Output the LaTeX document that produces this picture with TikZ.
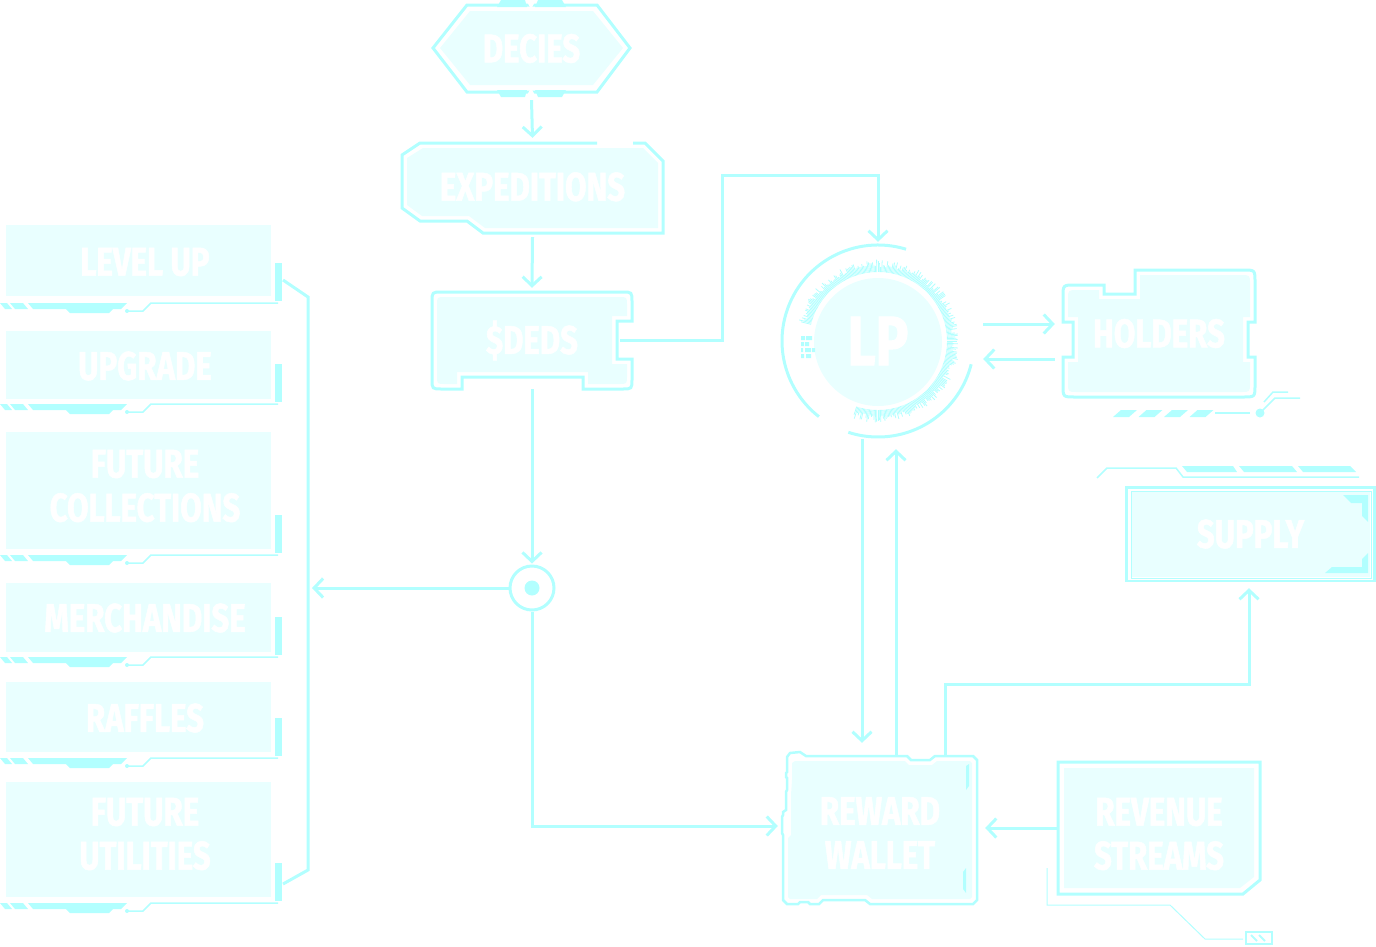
\documentclass[tikz,border=0pt]{standalone}
\usepackage{fontspec}
\newfontfamily\osw[FakeStretch=0.78,FakeBold=1.3]{Fira Sans}
\usetikzlibrary{arrows.meta,calc}
\definecolor{cyl}{RGB}{178,255,255}
\definecolor{cyf}{RGB}{233,255,255}
\tikzset{
  outl/.style={draw=cyl,line width=3pt,line join=miter},
  lite/.style={fill=cyf},
  cyfill/.style={fill=cyl},
  hair/.style={draw=cyl,line width=1.5pt},
  con/.style={draw=cyl,line width=3pt},
  arr/.style={con,-{Straight Barb[length=9pt,width=19pt]}},
  txt/.style={text=white,font=\osw\bfseries\fontsize{40}{44}\selectfont,align=center,inner sep=0pt},
  bigtxt/.style={text=white,font=\osw\bfseries\fontsize{70}{70}\selectfont,inner sep=0pt},
}
\newcommand\leftbox[3]{%
  \fill[cyf] (6,#1) rectangle (271,#2);
  \fill[cyl] (275,#3-40) rectangle (282,#3-2);
  \begin{scope}[shift={(0,#3)}]
    \fill[cyl] (0,0) -- (7,0) -- (12,6) -- (5,6) -- cycle;
    \fill[cyl] (10,0) -- (23,0) -- (28,6) -- (15,6) -- cycle;
    \fill[cyl] (28,0) -- (127,0) -- (121,6) -- (113,6) -- (109,10) -- (70,10) -- (66,6) -- (33,6) -- cycle;
    \fill[cyl] (127,8) circle[radius=2];
    \draw[hair] (127,8) -- (143,8) -- (151,0) -- (278,0);
  \end{scope}}
\begin{document}
\begin{tikzpicture}[x=1pt,y=-1pt]
\useasboundingbox (0,0) rectangle (1376,946);

% ---------- left column ----------
\leftbox{225}{296}{303}
\leftbox{331}{399}{404}
\leftbox{432}{549}{555}
\leftbox{583}{652}{657}
\leftbox{682}{752}{758}
\leftbox{782}{897}{903}
\draw[con] (283,280) -- (308,297) -- (308,870) -- (283,884);
\coordinate (brk) at (312,588);

% ---------- DECIES ----------
\fill[cyf] (470,11) -- (593,11) -- (623,48) -- (593,85) -- (470,85) -- (440,48) -- cycle;
\draw[outl] (467,5) -- (597,5) -- (630,48) -- (597,92) -- (467,92) -- (433,48) -- cycle;
\fill[cyl] (497,7) -- (501,0) -- (525,0) -- (527,7) -- cycle;
\fill[cyl] (535,7) -- (538,0) -- (562,0) -- (566,7) -- cycle;
\fill[cyl] (497,90) -- (527,90) -- (525,97) -- (501,97) -- cycle;
\fill[cyl] (535,90) -- (566,90) -- (562,97) -- (538,97) -- cycle;
\fill[white] (526,0) -- (536,0) -- (531,9) -- cycle;
\fill[white] (526,97) -- (536,97) -- (531,88) -- cycle;

% ---------- EXPEDITIONS ----------
\fill[cyf] (423,148) -- (643,148) -- (658,163) -- (658,228) -- (485,228) -- (469,216) -- (422,216) -- (407,205) -- (407,158) -- cycle;
\draw[outl] (633,143) -- (645,143) -- (663,161) -- (663,233) -- (483,233) -- (467,221) -- (420,221) -- (402,208) -- (402,155) -- (420,143) -- (597,143);

% ---------- $DEDS ----------
\fill[cyf] (445,297) -- (619,297) .. controls (627,297) .. (627,305) -- (627,316) -- (612,316) -- (612,364) -- (627,364) -- (627,376) .. controls (627,384) .. (619,384) -- (588,384) -- (588,372) -- (457,372) -- (457,384) -- (445,384) .. controls (437,384) .. (437,376) -- (437,305) .. controls (437,297) .. (445,297) -- cycle;
\draw[outl] (442,292) -- (622,292) .. controls (632,292) .. (632,302) -- (632,321) -- (617,321) -- (617,359) -- (632,359) -- (632,379) .. controls (632,389) .. (622,389) -- (583,389) -- (583,377) -- (462,377) -- (462,389) -- (442,389) .. controls (432,389) .. (432,379) -- (432,302) .. controls (432,292) .. (442,292) -- cycle;

% ---------- LP ----------
\fill[cyf] (878,342) circle[radius=64];
\pgfmathsetseed{11}
\foreach \a in {-166,-165,...,108}{
  \pgfmathsetmacro\l{5+8*rnd}
  \draw[cyl,line width=0.8pt] ($(878,341)+(\a:69)$) -- ($(878,341)+(\a:{69+\l})$);
}
\draw[cyl,line width=3pt] ($(878,341)+(-73:96)$) arc[start angle=-73,end angle=-232,radius=96];
\draw[cyl,line width=3pt] ($(878,341)+(14:96)$) arc[start angle=14,end angle=108,radius=96];
\fill[cyl] (801,336) rectangle (805,340) (806,336) rectangle (812,340);
\fill[cyl] (801,342) rectangle (804,346) (805,342) rectangle (809,346);
\fill[cyl] (801,348) rectangle (803,352) (805,348) rectangle (811,352) (812,348) rectangle (815,352);
\fill[cyl] (801,354) rectangle (804,358) (806,354) rectangle (811,358);

% ---------- HOLDERS ----------
\fill[cyf] (1078,290) -- (1099,290) -- (1099,299) -- (1140,299) -- (1140,275) -- (1241,275) .. controls (1250,275) .. (1250,284) -- (1250,317) -- (1243,317) -- (1243,362) -- (1250,362) -- (1250,383) .. controls (1250,392) .. (1241,392) -- (1077,392) .. controls (1068,392) .. (1068,383) -- (1068,362) -- (1078,362) -- (1078,317) -- (1068,317) -- (1068,299) .. controls (1068,290) .. (1078,290) -- cycle;
\draw[outl] (1075,285) -- (1104,285) -- (1104,294) -- (1135,294) -- (1135,270) -- (1243,270) .. controls (1255,270) .. (1255,282) -- (1255,322) -- (1248,322) -- (1248,357) -- (1255,357) -- (1255,385) .. controls (1255,397) .. (1243,397) -- (1075,397) .. controls (1063,397) .. (1063,385) -- (1063,357) -- (1073,357) -- (1073,322) -- (1063,322) -- (1063,297) .. controls (1063,285) .. (1075,285) -- cycle;
\foreach \k in {0,1,2,3}{
  \fill[cyl] ($(1113,410)+(25.5*\k,0)+(8,0)$) -- ++(16,0) -- ++(-8,7) -- ++(-16,0) -- cycle;
}
\draw[cyl,line width=2pt] (1215,413) -- (1250,413);
\fill[cyl] (1260,413) circle[radius=4.5];
\draw[hair] (1260,413) -- (1275,398) -- (1300,398);
\draw[hair] (1264,402) -- (1273,392) -- (1288,392);

% ---------- SUPPLY ----------
\draw[hair] (1097,478) -- (1107,468) -- (1176,468) -- (1183,477) -- (1359,477);
\fill[cyl] (1182,466) -- (1233,466) -- (1237,472) -- (1187,472) -- cycle;
\fill[cyl] (1239,466) -- (1292,466) -- (1297,472) -- (1244,472) -- cycle;
\fill[cyl] (1298,466) -- (1350,466) -- (1356,472) -- (1303,472) -- cycle;
\fill[cyf] (1132,492) rectangle (1370,577);
\draw[cyl,line width=1pt] (1131,491) rectangle (1371,578);
\draw[cyl,line width=2.5pt] (1126.5,487.5) rectangle (1374.5,581);
\fill[cyl] (1343,495) -- (1368,495) -- (1368,522) -- (1362,516) -- (1362,503) -- (1351,503) -- cycle;
\fill[cyl] (1325,573) -- (1368,573) -- (1368,553) -- (1362,559) -- (1362,567) -- (1332,567) -- cycle;

% ---------- REWARD WALLET ----------
\fill[cyf] (795,761) -- (905,761) -- (909,765) -- (932,765) -- (937,761) -- (970,761) -- (972,763) -- (972,897) -- (970,899) -- (872,899) -- (867,895) -- (821,895) -- (817,899) -- (790,899) -- (788,897) -- (788,838) -- (791,835) -- (791,795) -- (792,780) -- (792,763) -- cycle;
\draw[cyl,line width=2.5pt,line join=miter] (790,753) -- (800,752) -- (806,756) -- (907,756) -- (911,760) -- (930,760) -- (935,756) -- (973,756) -- (977,760) -- (977,900) -- (973,904) -- (870,904) -- (865,900) -- (823,900) -- (819,904) -- (810,904) -- (808,902) -- (800,902) -- (798,904) -- (787,904) -- (783,900) -- (783,835) -- (782,833) -- (782,817) -- (783,815) -- (783,812) -- (786,810) -- (786,792) -- (787,790) -- (787,778) -- (786,777) -- (786,773) -- (787,772) -- (787,757) -- cycle;
\fill[cyl] (966,766) -- (969,764) -- (969,786) -- (966,790) -- cycle;
\fill[cyl] (963,872) -- (966,868) -- (966,893) -- (963,889) -- cycle;

% ---------- REVENUE STREAMS ----------
\fill[cyf] (1064,768) -- (1254,768) -- (1254,877) -- (1240,888) -- (1064,888) -- cycle;
\draw[outl] (1058,762) -- (1260,762) -- (1260,880) -- (1243,894) -- (1058,894) -- cycle;
\draw[cyl,line width=1pt] (1047,868) -- (1047,905) -- (1170,905) -- (1205,939) -- (1243,939);
\draw[cyl,line width=1.2pt] (1246,932) rectangle (1272,944);
\draw[cyl,line width=2pt] (1251,935) -- (1257,941) (1259,935) -- (1265,941);

% ---------- nodes ----------
\node[txt] (lvl) at (145,262) {LEVEL UP};
\node[txt] (upg) at (145,366) {UPGRADE};
\node[txt] (fcol) at (145,486) {FUTURE\\COLLECTIONS};
\node[txt] (merch) at (145,618) {MERCHANDISE};
\node[txt] (raff) at (145,718) {RAFFLES};
\node[txt] (futil) at (145,834) {FUTURE\\UTILITIES};

\node[txt,minimum width=197pt,minimum height=87pt] (decies) at (531.5,48.5) {DECIES};
\node[txt,minimum width=261pt,minimum height=90pt] (exped) at (532.5,188) {\raisebox{3pt}{EXPEDITIONS}};
\node[txt,minimum width=200pt,minimum height=97pt] (deds) at (532,340.5) {\$DEDS};
\node[circle,draw=cyl,line width=3pt,minimum size=44pt,inner sep=0pt] (junc) at (532,588) {};
\fill[cyl] (junc.center) circle[radius=7.5];
\node[bigtxt,circle,minimum size=192pt] (lp) at (878,341) {LP};
\node[txt,minimum width=192pt,minimum height=127pt] (holders) at (1159,333.5) {\raisebox{-8pt}{HOLDERS}};
\node[txt,minimum width=249pt,minimum height=94pt] (supply) at (1250.5,534) {SUPPLY};
\node[minimum width=194pt,minimum height=150pt,inner sep=0pt,
      label={[txt,yshift=-4pt]center:{REWARD\\WALLET}}] (reward) at (880,829) {};
\node[minimum width=202pt,minimum height=132pt,inner sep=0pt,
      label={[txt,yshift=-6pt]center:{REVENUE\\STREAMS}}] (revenue) at (1159,828) {};

% ---------- connectors ----------
\coordinate (b1) at (722,175);
\coordinate (b2) at (1249,684);
\draw[arr] ($(decies.south)+(0,8)$) -- ($(exped.north)+(0,-5)$);
\draw[arr] ($(exped.south)+(0,4)$) -- ($(deds.north)+(0,-4)$);
\draw[arr] ($(deds.east)+(-12,0)$) -| (b1) -| ($(lp.north)+(0,-3)$);
\draw[arr] (deds.south) -- ($(junc.north)+(0,-1)$);
\draw[arr] (junc.west) -- (brk);
\draw[arr] (junc.south) |- ($(reward.west)+(-5,-3)$);
\draw[arr] ($(lp.south)+(-16,2)$) -- ($(reward.north)+(-18,-11)$);
\draw[arr] ($(reward.north)+(16,3)$) -- ($(lp.south)+(18,12)$);
\draw[arr] ($(reward.north)+(65,2)$) |- (b2) -- ($(supply.south)+(-1.5,7)$);
\draw[arr] (revenue.west) -- ($(reward.east)+(8,-1)$);
\draw[arr] ($(lp.east)+(9,-17)$) -- ($(holders.west)+(-8,-9.5)$);
\draw[arr] ($(holders.west)+(-8,25.5)$) -- ($(lp.east)+(9,18)$);
\end{tikzpicture}
\end{document}
